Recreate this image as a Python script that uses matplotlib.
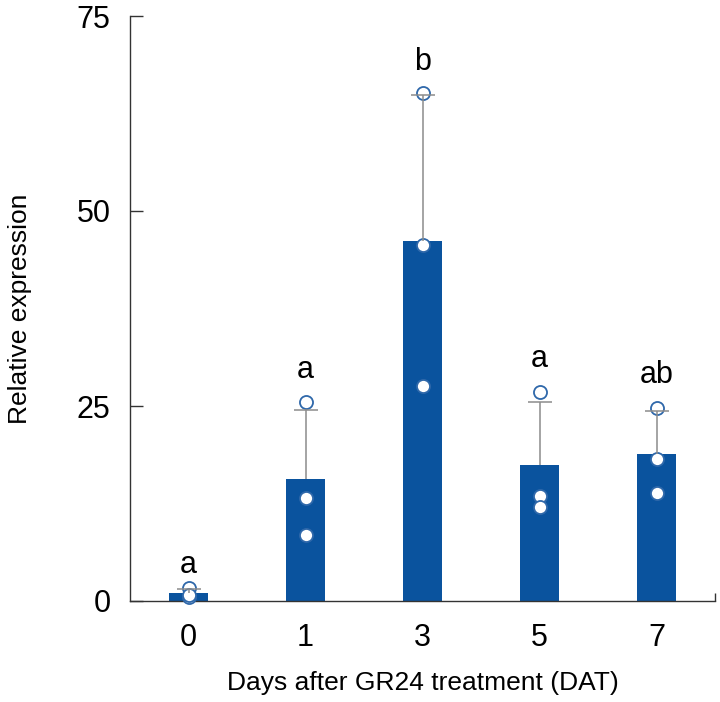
import numpy as np
import matplotlib.pyplot as plt

plt.rcParams['font.family'] = ['Liberation Sans', 'DejaVu Sans']

# days after GR24 treatment
days = ['0', '1', '3', '5', '7']
# mean relative expression and SD (upper error only)
means = [1.0, 15.7, 46.1, 17.4, 18.9]
sds = [0.6, 8.8, 18.8, 8.1, 5.5]
# individual replicates
reps = [[1.7, 0.5, 0.8],
        [25.5, 13.2, 8.5],
        [65.1, 45.7, 27.6],
        [26.8, 13.4, 12.1],
        [24.7, 18.2, 13.8]]
# significance letters and their baseline heights
letters = ['a', 'a', 'b', 'a', 'ab']
letter_y = [3.6, 28.6, 68.1, 30.0, 27.9]

bar_color = '#0a539e'
err_color = '#8c8c8c'
x = np.arange(len(days))

fig = plt.figure(figsize=(7.2, 7.02), dpi=100)
ax = fig.add_axes([130 / 720, 1 - 601 / 702, 585 / 720, 585 / 702])

ax.bar(x, means, width=0.333, color=bar_color, zorder=2)

for i, pts in enumerate(reps):
    ax.plot([x[i]] * len(pts), pts, 'o', ms=9.4, mfc='white',
            mec='#2f68aa', mew=1.3, zorder=3, clip_on=False)

# upper error bars only, cap at the top end
tops = np.array(means) + np.array(sds)
ax.vlines(x, means, tops, color=err_color, lw=1.1, zorder=4)
ax.plot(x, tops, '_', ms=17, mew=1.1, color=err_color, zorder=4,
        linestyle='none')

for i, lab in enumerate(letters):
    ax.text(x[i], letter_y[i], lab, ha='center', va='baseline',
            fontsize=22)

ax.set_xlim(-0.5, 4.5)
ax.set_ylim(0, 75)
ax.set_yticks([0, 25, 50, 75])
ax.set_xticks(x)
ax.set_xticklabels(days)

ax.tick_params(axis='y', direction='in', length=9, width=1, color='#333333',
               labelsize=22, pad=14)
ax.tick_params(axis='x', length=0, labelsize=22, pad=16)
# small end tick at the right end of x axis
ax.set_xticks([4.5], minor=True)
ax.tick_params(axis='x', which='minor', direction='in', length=6, width=1,
               color='#333333')

for s in ['top', 'right']:
    ax.spines[s].set_visible(False)
for s in ['left', 'bottom']:
    ax.spines[s].set_color('#333333')
    ax.spines[s].set_linewidth(1.0)

ax.set_ylabel('Relative expression', fontsize=19, labelpad=32)
ax.set_xlabel('Days after GR24 treatment (DAT)', fontsize=19, labelpad=13)

fig.savefig('out.png', dpi=100)
